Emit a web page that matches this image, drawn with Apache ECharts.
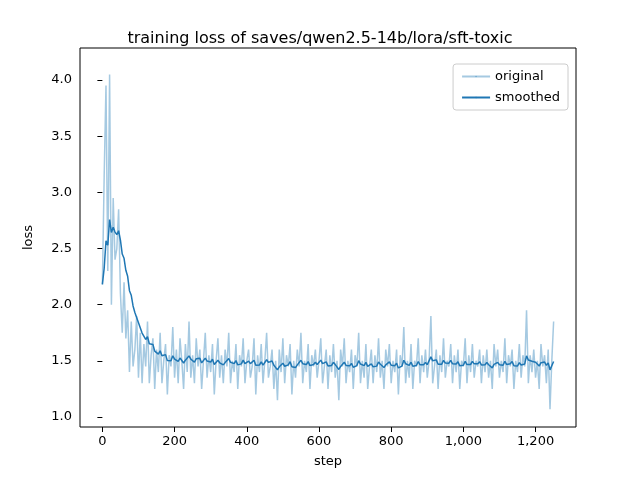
<!DOCTYPE html>
<html><head><meta charset="utf-8">
<script src="https://cdn.jsdelivr.net/npm/echarts@6/dist/echarts.min.js"></script>
<style>html,body{margin:0;padding:0;background:#fff}#c{width:640px;height:480px}</style>
</head><body><div id="c"></div>
<script>
const stepSize = 5;
const original = [
2.18,3.15,3.95,2.3,4.05,2.0,2.95,2.4,2.5,2.85,2.1,1.75,2.2,1.7,1.95,1.4,1.85,1.45,1.6,1.9,
1.35,1.75,1.3,1.65,1.45,1.85,1.3,1.55,1.7,1.25,1.6,1.4,1.75,1.3,1.5,1.65,1.2,1.55,1.45,1.8,
1.35,1.6,1.3,1.7,1.5,1.25,1.65,1.4,1.85,1.35,1.55,1.3,1.7,1.45,1.6,1.25,1.5,1.75,1.35,1.55,
1.4,1.65,1.2,1.5,1.7,1.35,1.55,1.3,1.6,1.45,1.75,1.3,1.5,1.4,1.65,1.25,1.55,1.45,1.7,1.3,
1.5,1.6,1.35,1.45,1.7,1.2,1.55,1.4,1.65,1.3,1.5,1.75,1.35,1.45,1.6,1.25,1.5,1.15,1.6,1.4,
1.7,1.3,1.55,1.45,1.65,1.2,1.5,1.35,1.6,1.45,1.75,1.3,1.5,1.4,1.65,1.25,1.55,1.45,1.6,1.35,
1.5,1.7,1.3,1.45,1.6,1.25,1.55,1.4,1.65,1.35,1.5,1.15,1.6,1.45,1.7,1.3,1.5,1.4,1.6,1.25,
1.55,1.45,1.75,1.3,1.5,1.35,1.65,1.25,1.45,1.6,1.3,1.55,1.4,1.7,1.35,1.5,1.25,1.6,1.45,1.65,
1.3,1.5,1.4,1.6,1.2,1.55,1.45,1.8,1.3,1.5,1.35,1.65,1.25,1.5,1.45,1.7,1.3,1.55,1.4,1.6,
1.35,1.5,1.9,1.3,1.45,1.6,1.25,1.55,1.4,1.7,1.35,1.5,1.45,1.65,1.3,1.55,1.4,1.6,1.25,1.5,
1.45,1.7,1.3,1.55,1.4,1.65,1.35,1.5,1.45,1.6,1.3,1.55,1.4,1.6,1.35,1.5,1.25,1.65,1.45,1.6,
1.35,1.5,1.4,1.7,1.3,1.55,1.45,1.6,1.25,1.5,1.4,1.65,1.35,1.55,1.45,1.95,1.3,1.55,1.4,1.6,
1.35,1.5,1.25,1.65,1.45,1.55,1.3,1.6,1.07,1.5,
1.85
];
const steps = original.map((_, i) => i * stepSize);
// smoothed = exponential moving average of original
const smoothed = [];
original.forEach((v, i) => smoothed.push(i === 0 ? v : smoothed[i-1]*0.85 + v*0.15));
const xTicks = [0,200,400,600,800,1000,1200];
const yTicks = [1.0,1.5,2.0,2.5,3.0,3.5,4.0];

const chart = echarts.init(document.getElementById('c'));
const font = 'DejaVu Sans';
chart.setOption({
  animation:false,
  title:{text:'training loss of saves/qwen2.5-14b/lora/sft-toxic',left:'center',top:26,
    textStyle:{fontFamily:font,fontSize:16,fontWeight:'normal',color:'#000'}},
  legend:{right:72,top:64,orient:'vertical',itemWidth:28,itemHeight:2,itemGap:8,
    borderColor:'#ccc',borderWidth:1,borderRadius:3,padding:[6,8],
    textStyle:{fontFamily:font,fontSize:13,color:'#000'},
    data:['original','smoothed']},
  grid:{left:80,right:64,top:48,bottom:53,show:true,borderColor:'#000',borderWidth:1},
  xAxis:{type:'value',min:-62,max:1312,name:'step',nameLocation:'middle',nameGap:28,
    nameTextStyle:{fontFamily:font,fontSize:13,color:'#000'},
    axisLine:{show:false},splitLine:{show:false},
    axisTick:{show:true,customValues:xTicks,lineStyle:{color:'#000'}},
    axisLabel:{fontFamily:font,fontSize:13,color:'#000',customValues:xTicks}},
  yAxis:{type:'value',min:0.911,max:4.285,name:'loss',nameLocation:'middle',nameGap:45,
    nameTextStyle:{fontFamily:font,fontSize:13,color:'#000'},
    axisLine:{show:false},splitLine:{show:false},
    axisTick:{show:true,customValues:yTicks,lineStyle:{color:'#000'}},
    axisLabel:{fontFamily:font,fontSize:13,color:'#000',customValues:yTicks,
      formatter:v=>v.toFixed(1)}},
  series:[
    {name:'original',type:'line',symbol:'none',data:steps.map((s,i)=>[s,original[i]]),
      lineStyle:{color:'#1f77b4',opacity:0.4,width:1.5},itemStyle:{color:'rgba(31,119,180,0.4)'}},
    {name:'smoothed',type:'line',symbol:'none',data:steps.map((s,i)=>[s,smoothed[i]]),
      lineStyle:{color:'#1f77b4',width:1.5},itemStyle:{color:'#1f77b4'}}
  ]
});
</script></body></html>
